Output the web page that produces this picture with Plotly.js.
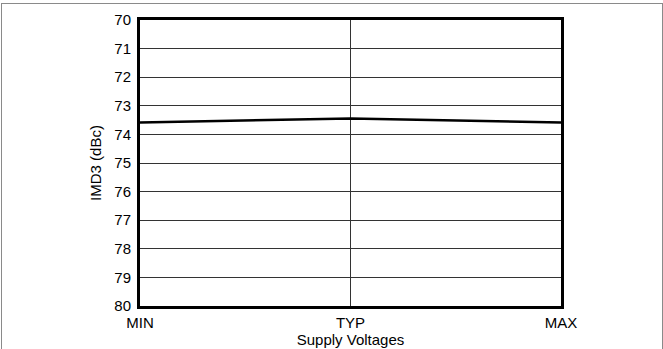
<!DOCTYPE html>
<html>
<head>
<meta charset="utf-8">
<script src="https://cdn.plot.ly/plotly-3.0.1.min.js"></script>
<style>
html, body { margin: 0; padding: 0; background: #fff; }
#frame { position: absolute; left: 1px; top: 3px; width: 662px; height: 400px; border: 1px solid #8a8a8a; border-bottom: none; box-sizing: border-box; }
#chart { position: absolute; left: 0; top: 0; width: 663px; height: 349px; }
</style>
</head>
<body>
<div id="frame"></div>
<div id="chart"></div>
<script>
const categories = ["MIN", "TYP", "MAX"];
const imd3 = [73.58, 73.44, 73.58];
const yTicks = [70, 71, 72, 73, 74, 75, 76, 77, 78, 79, 80];

const font = { family: "Liberation Sans, Arial, sans-serif", size: 15, color: "#000" };

Plotly.newPlot("chart", [{
  x: categories,
  y: imd3,
  type: "scatter",
  mode: "lines",
  line: { color: "#000", width: 2.5 },
  hoverinfo: "skip"
}], {
  width: 663,
  height: 349,
  margin: { l: 140, r: 102, t: 20, b: 43 },
  paper_bgcolor: "rgba(0,0,0,0)",
  plot_bgcolor: "#fff",
  showlegend: false,
  font: font,
  xaxis: {
    type: "category",
    categoryorder: "array",
    categoryarray: categories,
    range: [0, 2],
    showline: true, mirror: true, linewidth: 3, linecolor: "#000",
    showgrid: true, gridcolor: "#333", gridwidth: 1,
    zeroline: false, ticks: "",
    ticklabelstandoff: 1,
    tickfont: font,
    title: { text: "Supply Voltages", font: font, standoff: 1 }
  },
  yaxis: {
    range: [80, 70],
    tickvals: yTicks,
    ticktext: yTicks.map(String),
    showline: true, mirror: true, linewidth: 3, linecolor: "#000",
    showgrid: true, gridcolor: "#333", gridwidth: 1,
    zeroline: false, ticks: "",
    ticklabelstandoff: 3,
    tickfont: font,
    title: { text: "IMD3 (dBc)", font: font, standoff: 10 }
  }
}, { staticPlot: true, displayModeBar: false });
</script>
</body>
</html>
